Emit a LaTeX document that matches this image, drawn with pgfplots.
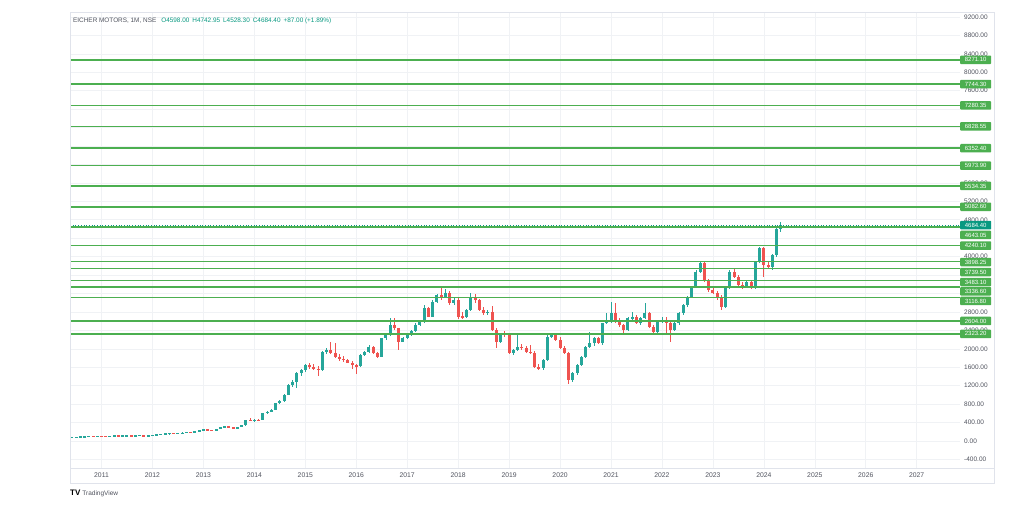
\documentclass[border=0pt]{standalone}
\usepackage{fontspec}
\setmainfont{Liberation Sans}
\usepackage{pgfplots}
\usepackage{pgfplotstable}
\pgfplotsset{compat=1.18}
\definecolor{cup}{HTML}{26A69A}
\definecolor{cdn}{HTML}{EF5350}
\definecolor{glc}{HTML}{4CAF50}
\definecolor{tealbox}{HTML}{089981}
\definecolor{txtgray}{HTML}{50535E}
\definecolor{gridc}{HTML}{F0F2F5}
\definecolor{framec}{HTML}{E0E3EB}

\pgfplotstableread{
i o h l c
-7 75 82 72 80
-6 80 90 78 88
-5 88 96 84 92
-4 92 100 88 97
-3 97 112 95 108
-1 102 112 100 110
2 100 110 98 108
3 108 116 105 113
5 110 118 108 115
6 115 122 112 120
8 112 120 108 118
9 118 125 115 122
11 115 120 110 118
12 118 135 116 132
13 132 148 130 145
14 145 155 138 150
15 150 162 145 158
16 158 175 150 170
18 160 172 155 168
19 168 185 165 180
20 180 198 176 195
22 190 212 188 208
23 208 232 205 228
24 228 262 224 255
27 230 262 228 258
28 258 305 255 298
29 298 325 290 318
32 285 308 280 300
33 300 345 298 340
34 340 460 335 455
36 440 470 420 460
38 450 610 445 600
39 600 650 580 640
40 640 700 620 680
41 680 830 670 820
42 820 890 800 865
43 865 1020 850 1005
44 1005 1230 990 1220
45 1220 1320 1180 1290
46 1290 1490 1150 1475
47 1475 1560 1420 1540
48 1540 1680 1500 1650
52 1541 1950 1520 1939
53 1939 2010 1880 1975
61 1620 1880 1600 1867
62 1867 1960 1840 1939
63 1939 2080 1920 2048
66 1830 2240 1820 2228
67 2228 2320 2200 2300
68 2300 2662 2280 2518
71 2156 2260 2140 2228
72 2228 2320 2210 2300
73 2300 2400 2280 2380
74 2380 2560 2360 2520
75 2520 2600 2500 2580
76 2580 2960 2560 2880
78 2700 3050 2690 3024
79 3024 3190 3000 3168
81 3132 3300 3100 3219
83 2990 3100 2950 3060
86 2684 2860 2660 2843
87 2843 3205 2830 3132
91 2770 2850 2740 2807
94 2155 2350 2130 2336
97 1902 2000 1860 1975
98 1975 2300 1960 2047
104 1576 1780 1550 1757
105 1757 2290 1740 2264
106 2264 2336 2230 2300
111 1324 1500 1290 1468
112 1468 1680 1440 1649
113 1649 1850 1620 1830
114 1830 2070 1810 2047
115 2047 2373 2020 2119
116 2119 2250 2060 2228
118 2119 2570 2090 2553
119 2553 2770 2530 2590
120 2590 3024 2560 2770
124 2409 2690 2390 2662
125 2662 2807 2600 2680
127 2553 2690 2520 2662
128 2662 2987 2640 2770
131 2372 2610 2350 2590
132 2590 2700 2560 2626
135 2409 2600 2380 2553
136 2553 2790 2520 2770
137 2770 2980 2740 2951
138 2951 3150 2900 3132
139 3132 3370 3100 3349
140 3349 3700 3320 3674
141 3674 3900 3640 3856
147 2915 3330 2880 3313
148 3313 3700 3290 3674
152 3349 3480 3320 3457
154 3313 3900 3300 3891
155 3891 4200 3860 4181
158 3783 4060 3711 4036
159 4036 4660 4000 4598
160 4598 4742.95 4528.30 4684.40
}\upt

\pgfplotstableread{
i o h l c
-2 108 112 98 102
0 110 114 100 104
1 104 110 96 100
4 113 118 106 110
7 120 122 108 112
10 122 124 112 115
17 170 178 155 160
21 195 205 185 190
25 255 260 232 238
26 238 245 222 230
30 318 322 290 295
31 295 305 270 285
35 455 495 430 440
37 460 480 440 450
49 1650 1690 1560 1600
50 1600 1660 1540 1570
51 1570 1620 1400 1541
54 1975 2156 1880 1905
55 1905 2120 1800 1830
56 1830 1880 1740 1780
57 1780 1850 1720 1760
58 1760 1790 1690 1700
59 1700 1730 1560 1650
60 1650 1680 1460 1620
64 2048 2070 1880 1900
65 1900 1930 1800 1830
69 2518 2662 2400 2446
70 2446 2460 1975 2156
77 2880 2900 2680 2700
80 3168 3313 3060 3132
82 3219 3250 2960 2990
84 3060 3100 2640 2700
85 2700 2790 2640 2684
88 3132 3180 3000 3060
89 3060 3080 2820 2843
90 2843 2900 2740 2770
92 2807 2920 2380 2409
93 2409 2460 2011 2155
95 2336 2380 2260 2300
96 2300 2320 1880 1902
99 2047 2110 1980 2011
100 2011 2060 1900 1939
101 1939 2080 1880 1902
102 1902 1960 1590 1613
103 1613 1680 1530 1576
107 2300 2320 2160 2192
108 2192 2260 1990 2011
109 2011 2060 1880 1902
110 1902 1930 1245 1324
117 2228 2260 2100 2119
121 2770 3000 2560 2600
122 2600 2660 2480 2517
123 2517 2540 2336 2409
126 2680 2740 2540 2553
129 2770 2800 2460 2481
130 2481 2520 2350 2372
133 2626 2680 2300 2553
134 2553 2600 2155 2409
142 3856 3895 3450 3494
143 3494 3520 3240 3277
144 3277 3350 3180 3220
145 3220 3260 3060 3096
146 3096 3168 2843 2915
149 3674 3760 3540 3566
150 3566 3600 3360 3385
151 3385 3440 3300 3349
153 3457 3480 3290 3313
156 4181 4220 3566 3819
157 3819 3900 3740 3783
}\dnt

\begin{document}
\begin{tikzpicture}[x=1pt,y=1pt]
\path[use as bounding box, fill=white] (0,0) rectangle (1024,512);
\begin{axis}[
  at={(70pt,44pt)}, anchor=south west,
  scale only axis, width=890pt, height=456pt,
  xmin=-7.42, xmax=202.2, ymin=-586, ymax=9309,
  axis line style={draw=none},
  tick style={draw=none},
  grid=major, grid style={gridc, line width=0.6pt},
  xtick={0,12,...,192},
  xticklabels={2011,2012,2013,2014,2015,2016,2017,2018,2019,2020,2021,2022,2023,2024,2025,2026,2027},
  xticklabel style={anchor=north, inner sep=0pt, yshift=-4.5pt, font=\fontsize{6.8}{8}\selectfont, text=txtgray},
  ytick={-400,0,400,800,1200,1600,2000,2400,2800,4000,4800,5200,5600,7600,8000,8400,8800,9200},
  extra y ticks={3200,3600,4400,6000,6400,6800,7200},
  extra y tick labels={},
  extra y tick style={grid=major},
  yticklabel pos=right,
  yticklabel style={anchor=west, inner sep=0pt, xshift=4pt, font=\fontsize{6.5}{8}\selectfont, text=txtgray,
    /pgf/number format/fixed, /pgf/number format/fixed zerofill, /pgf/number format/precision=2,
    /pgf/number format/1000 sep={}, /pgf/number format/assume math mode=true},
  scaled y ticks=false,
  clip=false,
  candle/.style={only marks, mark=*, mark size=0pt, mark options={draw opacity=0, fill opacity=0}, forget plot},
]
% wicks
\addplot[candle, error bars/.cd, y dir=both, y explicit, error mark=none,
  error bar style={line width=0.8pt, draw=cup, draw opacity=1}]
  table[x=i, y expr={(\thisrow{h}+\thisrow{l})/2}, y error expr={(\thisrow{h}-\thisrow{l})/2}] {\upt};
\addplot[candle, error bars/.cd, y dir=both, y explicit, error mark=none,
  error bar style={line width=0.8pt, draw=cdn, draw opacity=1}]
  table[x=i, y expr={(\thisrow{h}+\thisrow{l})/2}, y error expr={(\thisrow{h}-\thisrow{l})/2}] {\dnt};
% bodies
\addplot[candle, error bars/.cd, y dir=both, y explicit, error mark=none,
  error bar style={line width=3pt, draw=cup, draw opacity=1}]
  table[x=i, y expr={(\thisrow{o}+\thisrow{c})/2}, y error expr={max(abs(\thisrow{c}-\thisrow{o})/2,10)}] {\upt};
\addplot[candle, error bars/.cd, y dir=both, y explicit, error mark=none,
  error bar style={line width=3pt, draw=cdn, draw opacity=1}]
  table[x=i, y expr={(\thisrow{o}+\thisrow{c})/2}, y error expr={max(abs(\thisrow{c}-\thisrow{o})/2,10)}] {\dnt};
% horizontal levels
\pgfplotsinvokeforeach{8271.10,7744.30,7280.35,6828.55,6352.40,5973.90,5534.35,5082.60,4643.05,4240.10,3898.25,3739.50,3483.10,3336.60,3116.80,2604.00,2323.20}{
  \addplot[draw=glc, line width=1.5pt, forget plot] coordinates {(-7.42,#1) (202.2,#1)};
}
\addplot[draw=tealbox, dotted, line width=0.7pt, forget plot] coordinates {(-7.42,4684.40) (202.2,4684.40)};
\coordinate (q1) at (axis cs:202.2,8271.10);
\coordinate (q2) at (axis cs:202.2,7744.30);
\coordinate (q3) at (axis cs:202.2,7280.35);
\coordinate (q4) at (axis cs:202.2,6828.55);
\coordinate (q5) at (axis cs:202.2,6352.40);
\coordinate (q6) at (axis cs:202.2,5973.90);
\coordinate (q7) at (axis cs:202.2,5534.35);
\coordinate (q8) at (axis cs:202.2,5082.60);
\coordinate (qc) at (axis cs:202.2,4684.40);
\coordinate (q9) at (axis cs:202.2,4470);
\coordinate (q10) at (axis cs:202.2,4240.10);
\coordinate (q11) at (axis cs:202.2,3884);
\coordinate (q12) at (axis cs:202.2,3667);
\coordinate (q13) at (axis cs:202.2,3450);
\coordinate (q14) at (axis cs:202.2,3249);
\coordinate (q15) at (axis cs:202.2,3038);
\coordinate (q16) at (axis cs:202.2,2604.00);
\coordinate (q17) at (axis cs:202.2,2323.20);
\end{axis}
\tikzset{lbl/.style={fill=glc, text=white, font=\fontsize{6}{7}\selectfont, inner sep=0pt,
  minimum width=31pt, minimum height=8.5pt, anchor=west, rounded corners=0.8pt}}
\node[lbl] at (q1) {8271.10};
\node[lbl] at (q2) {7744.30};
\node[lbl] at (q3) {7280.35};
\node[lbl] at (q4) {6828.55};
\node[lbl] at (q5) {6352.40};
\node[lbl] at (q6) {5973.90};
\node[lbl] at (q7) {5534.35};
\node[lbl] at (q8) {5082.60};
\node[lbl] at (q9) {4643.05};
\node[lbl, fill=tealbox] at (qc) {4684.40};
\node[lbl] at (q10) {4240.10};
\node[lbl] at (q11) {3898.25};
\node[lbl] at (q12) {3739.50};
\node[lbl] at (q13) {3483.10};
\node[lbl] at (q14) {3336.60};
\node[lbl] at (q15) {3116.80};
\node[lbl] at (q16) {2604.00};
\node[lbl] at (q17) {2323.20};
% frame
\draw[framec, line width=0.6pt] (70,29) rectangle (994,500);
\draw[framec, line width=0.6pt] (70,44) -- (994,44);
% title
\node[anchor=west, inner sep=0pt, font=\fontsize{6.4}{7.5}\selectfont] at (73,491)
  {\textcolor{txtgray}{EICHER MOTORS, 1M, NSE}\hspace{5pt}\textcolor{tealbox}{O4598.00\hspace{3pt}H4742.95\hspace{3pt}L4528.30\hspace{3pt}C4684.40\hspace{3pt}+87.00 (+1.89\%)}};
% logo
\node[anchor=west, inner sep=0pt, font=\fontsize{6.5}{8}\selectfont] at (70,19)
  {\textbf{\fontsize{8}{8}\selectfont TV}\hspace{2pt}\textcolor{txtgray}{TradingView}};
\end{tikzpicture}
\end{document}
